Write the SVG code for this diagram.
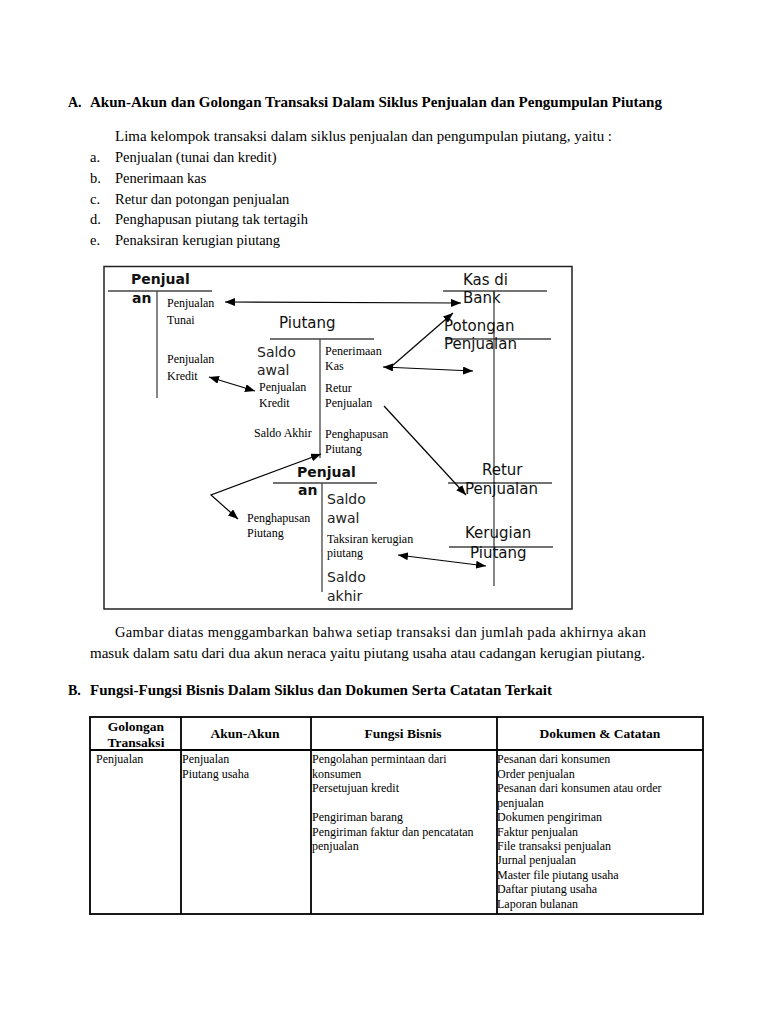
<svg xmlns="http://www.w3.org/2000/svg" width="768" height="1024" viewBox="0 0 768 1024">
<defs>
<marker id="ah" viewBox="0 0 10 8" refX="10" refY="4" markerWidth="10" markerHeight="8" markerUnits="userSpaceOnUse" orient="auto-start-reverse"><path d="M0,0 L10,4 L0,8 z" fill="#000"/></marker>
</defs>
<style>
.h{font-family:"Liberation Serif",serif;font-weight:bold;font-size:14px;fill:#000}
.p{font-family:"Liberation Serif",serif;font-size:14.5px;fill:#000}
.s{font-family:"Liberation Serif",serif;font-size:12px;fill:#000}
.t{font-family:"Liberation Serif",serif;font-size:12px;fill:#000}
.th{font-family:"Liberation Serif",serif;font-weight:bold;font-size:13.5px;fill:#000;text-anchor:middle}
.tb{font-family:"DejaVu Sans",sans-serif;font-weight:bold;font-size:14px;fill:#111}
.tn{font-family:"DejaVu Sans",sans-serif;font-size:15px;fill:#111}
.sa{font-family:"DejaVu Sans",sans-serif;font-size:14px;fill:#222}
.ln{stroke:#444;stroke-width:1.3;fill:none}
.ar{stroke:#000;stroke-width:1.2;fill:none}
.tl{stroke:#000;stroke-width:1.8;fill:none}
</style>
<rect width="768" height="1024" fill="#fff"/>

<g id="heading-a">
<text class="h" x="68" y="107">A.</text>
<text class="h" x="90" y="107" textLength="572" lengthAdjust="spacingAndGlyphs">Akun-Akun dan Golongan Transaksi Dalam Siklus Penjualan dan Pengumpulan Piutang</text>
</g>
<g id="intro">
<text class="p" x="115" y="141" textLength="497" lengthAdjust="spacingAndGlyphs">Lima kelompok transaksi dalam siklus penjualan dan pengumpulan piutang, yaitu :</text>
<text class="p" x="90" y="162">a.</text><text class="p" x="115" y="162">Penjualan (tunai dan kredit)</text>
<text class="p" x="90" y="183">b.</text><text class="p" x="115" y="183">Penerimaan kas</text>
<text class="p" x="90" y="204">c.</text><text class="p" x="115" y="204">Retur dan potongan penjualan</text>
<text class="p" x="90" y="224">d.</text><text class="p" x="115" y="224">Penghapusan piutang tak tertagih</text>
<text class="p" x="90" y="245">e.</text><text class="p" x="115" y="245">Penaksiran kerugian piutang</text>
</g>

<rect id="frame" x="104" y="266.5" width="468" height="342.5" fill="none" stroke="#222" stroke-width="1.5"/>

<g id="penjualan">
<text class="tb" x="131" y="284">Penjual</text>
<line class="ln" x1="108" y1="291" x2="212" y2="291"/>
<text class="tb" x="132" y="303">an</text>
<line class="ln" x1="157" y1="291" x2="157" y2="398"/>
<text class="s" x="167" y="307">Penjualan</text>
<text class="s" x="167" y="324">Tunai</text>
<text class="s" x="167" y="363">Penjualan</text>
<text class="s" x="167" y="380">Kredit</text>
</g>

<g id="piutang">
<text class="tn" x="279" y="328">Piutang</text>
<line class="ln" x1="270" y1="339" x2="374" y2="339"/>
<line class="ln" x1="320" y1="339" x2="320" y2="458"/>
<text class="sa" x="257" y="357">Saldo</text>
<text class="sa" x="257" y="375">awal</text>
<text class="s" x="259" y="391">Penjualan</text>
<text class="s" x="259" y="407">Kredit</text>
<text class="s" x="254" y="437">Saldo Akhir</text>
<text class="s" x="325" y="355">Penerimaan</text>
<text class="s" x="325" y="370">Kas</text>
<text class="s" x="325" y="392">Retur</text>
<text class="s" x="325" y="407">Penjualan</text>
<text class="s" x="325" y="438">Penghapusan</text>
<text class="s" x="325" y="453">Piutang</text>
</g>

<g id="kas-di-bank">
<text class="tn" x="463" y="285">Kas di</text>
<line class="ln" x1="443" y1="291" x2="547" y2="291"/>
<text class="tn" x="463" y="303">Bank</text>
<line class="ln" x1="494" y1="291" x2="494" y2="586"/>
</g>

<g id="potongan-penjualan">
<text class="tn" x="444" y="331">Potongan</text>
<line class="ln" x1="445" y1="339" x2="551" y2="339"/>
<text class="tn" x="444" y="349">Penjualan</text>
</g>

<g id="retur-penjualan">
<text class="tn" x="482" y="475">Retur</text>
<line class="ln" x1="448" y1="483" x2="552" y2="483"/>
<text class="tn" x="465" y="494">Penjualan</text>
</g>

<g id="kerugian-piutang">
<text class="tn" x="465" y="538">Kerugian</text>
<line class="ln" x1="449" y1="547" x2="553" y2="547"/>
<text class="tn" x="470" y="558">Piutang</text>
</g>

<g id="cadangan-penjualan">
<text class="tb" x="297" y="477">Penjual</text>
<line class="ln" x1="273" y1="483" x2="377" y2="483"/>
<text class="tb" x="298" y="495">an</text>
<line class="ln" x1="322" y1="483" x2="322" y2="592"/>
<text class="sa" x="327" y="504">Saldo</text>
<text class="sa" x="327" y="523">awal</text>
<text class="s" x="327" y="543">Taksiran kerugian</text>
<text class="s" x="327" y="557">piutang</text>
<text class="sa" x="327" y="582">Saldo</text>
<text class="sa" x="327" y="601">akhir</text>
<text class="s" x="247" y="522">Penghapusan</text>
<text class="s" x="247" y="537">Piutang</text>
</g>

<g id="connectors">
<line class="ar" x1="225" y1="302" x2="461" y2="303" marker-start="url(#ah)" marker-end="url(#ah)"/>
<line class="ar" x1="392" y1="366" x2="453" y2="313" marker-end="url(#ah)"/>
<line class="ar" x1="383" y1="367" x2="473" y2="371" marker-start="url(#ah)" marker-end="url(#ah)"/>
<line class="ar" x1="384" y1="406" x2="466" y2="495" marker-end="url(#ah)"/>
<line class="ar" x1="209" y1="377" x2="255" y2="391" marker-start="url(#ah)" marker-end="url(#ah)"/>
<polyline class="ar" points="321,454 211,495 238,519" marker-start="url(#ah)" marker-end="url(#ah)"/>
<line class="ar" x1="398" y1="555" x2="486" y2="566" marker-start="url(#ah)" marker-end="url(#ah)"/>
</g>

<g id="paragraph">
<text class="p" x="115" y="637" textLength="531" lengthAdjust="spacing">Gambar diatas menggambarkan bahwa setiap transaksi dan jumlah pada akhirnya akan</text>
<text class="p" x="90" y="658" textLength="555" lengthAdjust="spacingAndGlyphs">masuk dalam satu dari dua akun neraca yaitu piutang usaha atau cadangan kerugian piutang.</text>
</g>

<g id="heading-b">
<text class="h" x="68" y="695">B.</text>
<text class="h" x="90" y="695" textLength="462" lengthAdjust="spacingAndGlyphs">Fungsi-Fungsi Bisnis Dalam Siklus dan Dokumen Serta Catatan Terkait</text>
</g>

<g id="table">
<rect class="tl" x="90" y="717" width="613" height="197"/>
<line class="tl" x1="90" y1="750" x2="703" y2="750"/>
<line class="tl" x1="181" y1="717" x2="181" y2="914"/>
<line class="tl" x1="311" y1="717" x2="311" y2="914"/>
<line class="tl" x1="497" y1="717" x2="497" y2="914"/>
<text class="th" x="136" y="731">Golongan</text>
<text class="th" x="136" y="747">Transaksi</text>
<text class="th" x="245" y="738">Akun-Akun</text>
<text class="th" x="403" y="738">Fungsi Bisnis</text>
<text class="th" x="600" y="738">Dokumen &amp; Catatan</text>
<text class="t" x="96" y="763">Penjualan</text>
<text class="t" x="182" y="763">Penjualan</text>
<text class="t" x="182" y="778">Piutang usaha</text>
<text class="t" x="312" y="763">Pengolahan permintaan dari</text>
<text class="t" x="312" y="778">konsumen</text>
<text class="t" x="312" y="792">Persetujuan kredit</text>
<text class="t" x="312" y="821">Pengiriman barang</text>
<text class="t" x="312" y="836">Pengiriman faktur dan pencatatan</text>
<text class="t" x="312" y="850">penjualan</text>
<text class="t" x="497" y="763">Pesanan dari konsumen</text>
<text class="t" x="497" y="778">Order penjualan</text>
<text class="t" x="497" y="792">Pesanan dari konsumen atau order</text>
<text class="t" x="497" y="807">penjualan</text>
<text class="t" x="497" y="821">Dokumen pengiriman</text>
<text class="t" x="497" y="836">Faktur penjualan</text>
<text class="t" x="497" y="850">File transaksi penjualan</text>
<text class="t" x="497" y="864">Jurnal penjualan</text>
<text class="t" x="497" y="879">Master file piutang usaha</text>
<text class="t" x="497" y="893">Daftar  piutang usaha</text>
<text class="t" x="497" y="908">Laporan bulanan</text>
</g>
</svg>
